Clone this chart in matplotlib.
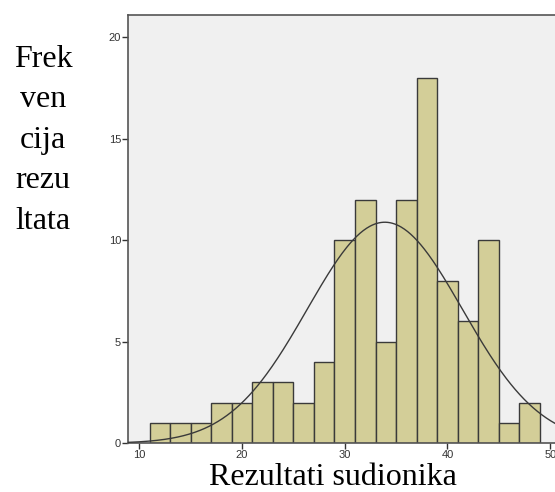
import numpy as np
import matplotlib.pyplot as plt

# histogram bins (width 2) and counts
bin_edges = [11, 13, 15, 17, 19, 21, 23, 25, 27, 29, 31, 33, 35, 37, 39, 41, 43, 45, 47, 49]
counts = [1, 1, 1, 2, 2, 3, 3, 2, 4, 10, 12, 5, 12, 18, 8, 6, 10, 1, 2]

# normal curve parameters
mean = 33.9
std = 7.55
n_total = sum(counts)
bin_width = 2

x_ticks = [10, 20, 30, 40, 50]
y_ticks = [0, 5, 10, 15, 20]

fig = plt.figure(figsize=(5.55, 4.92), dpi=100)
ax = fig.add_axes([0.2306, 0.099, 0.783, 0.871])
ax.set_facecolor('#f0f0f0')

ax.bar(bin_edges[:-1], counts, width=bin_width, align='edge',
       color='#d3ce98', edgecolor='#3a3a3a', linewidth=1.0, zorder=2)

xs = np.linspace(8.9, 52, 400)
ys = n_total * bin_width / (std * np.sqrt(2 * np.pi)) * np.exp(-0.5 * ((xs - mean) / std) ** 2)
ax.plot(xs, ys, color='#3a3a3a', linewidth=1.0, zorder=3)

ax.set_xlim(8.9, 51.2)
ax.set_ylim(0, 21.1)
ax.set_xticks(x_ticks)
ax.set_yticks(y_ticks)
ax.tick_params(labelsize=8, colors='#333333', length=4, width=1, pad=1)
for lbl in ax.get_xticklabels() + ax.get_yticklabels():
    lbl.set_family('Liberation Sans')
for sp in ax.spines.values():
    sp.set_color('#555555')
    sp.set_linewidth(1.2)

fig.text(0.078, 0.715, 'Frek\nven\ncija\nrezu\nltata', ha='center', va='center',
         family='Liberation Serif', fontsize=23, linespacing=1.52, color='black')
fig.text(0.60, 0.0, 'Rezultati sudionika', ha='center', va='bottom',
         family='Liberation Serif', fontsize=23, color='black')

fig.savefig('out.png', dpi=100)
